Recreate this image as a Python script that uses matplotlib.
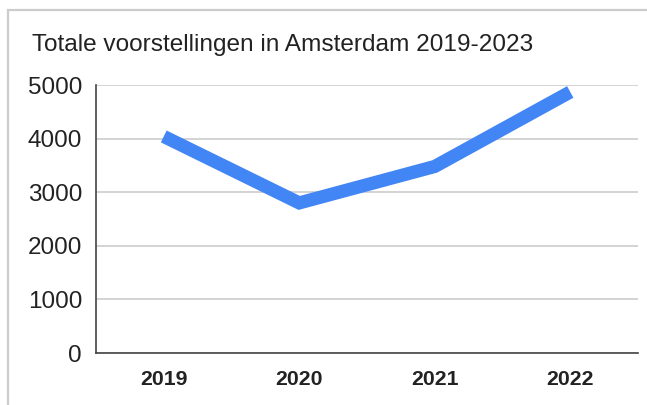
import matplotlib
matplotlib.use("Agg")
import matplotlib.pyplot as plt
from matplotlib.patches import Rectangle

# data
jaren = ["2019", "2020", "2021", "2022"]
voorstellingen = [4040, 2800, 3480, 4870]
y_ticks = [0, 1000, 2000, 3000, 4000, 5000]

plt.rcParams["font.family"] = ["Liberation Sans", "DejaVu Sans"]

fig = plt.figure(figsize=(6.47, 4.05), dpi=100)
ax = fig.add_axes([96 / 647, 1 - 353 / 405, (638 - 96) / 647, (353 - 85) / 405])

# light border around the chart card
fig.patches.append(Rectangle((8 / 647, -0.05), 1.2, 1 - 10 / 405 + 0.05,
                             transform=fig.transFigure, fill=False,
                             edgecolor="#cccccc", linewidth=1.6))

x = range(len(jaren))
ax.plot(x, voorstellingen, color="#4285f4", linewidth=9.5, solid_capstyle="butt",
        solid_joinstyle="miter", zorder=3)

ax.set_xlim(-0.5, len(jaren) - 0.5)
ax.set_ylim(0, 5000)
ax.set_yticks(y_ticks)
ax.set_yticklabels([str(v) for v in y_ticks], fontsize=17.5, color="#222222")
ax.set_xticks(list(x))
ax.set_xticklabels(jaren, fontsize=15.3, fontweight="bold", color="#222222")

ax.grid(axis="y", color="#cccccc", linewidth=1.2)
ax.set_axisbelow(True)
for s in ["top", "right"]:
    ax.spines[s].set_visible(False)
ax.spines["left"].set_color("#444444")
ax.spines["bottom"].set_color("#444444")
ax.spines["left"].set_linewidth(1.2)
ax.spines["bottom"].set_linewidth(1.2)
ax.tick_params(axis="both", length=0)
ax.tick_params(axis="y", pad=10)
ax.tick_params(axis="x", pad=12)

fig.text(32 / 647, 1 - 45 / 405, "Totale voorstellingen in Amsterdam 2019-2023",
         fontsize=17.6, color="#222222", va="center", ha="left")

fig.savefig("out.png", dpi=100, facecolor="white")
